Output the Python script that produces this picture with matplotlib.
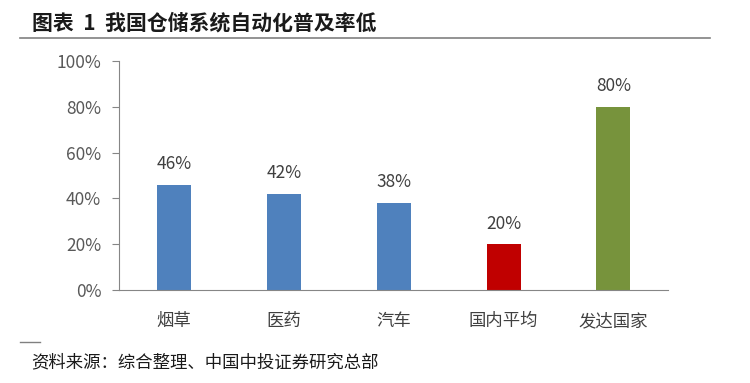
import matplotlib
matplotlib.use('Agg')
import matplotlib.pyplot as plt

plt.rcParams['font.family'] = ['Noto Sans CJK SC', 'DejaVu Sans']

categories = ['烟草', '医药', '汽车', '国内平均', '发达国家']
values = [46, 42, 38, 20, 80]
colors = ['#4F81BD', '#4F81BD', '#4F81BD', '#C00000', '#77933C']
yticks = [0, 20, 40, 60, 80, 100]

fig = plt.figure(figsize=(7.5, 3.83), dpi=100)
ax = fig.add_axes([0.159, 0.243, 0.732, 0.598])

x = range(len(categories))
ax.bar(x, values, width=0.31, color=colors)
for i, v in zip(x, values):
    ax.text(i, v + 5, '%d%%' % v, ha='center', va='bottom', fontsize=12.5, color='#404040')

ax.set_xlim(-0.5, len(categories) - 0.5)
ax.set_ylim(0, 100)
ax.set_yticks(yticks)
ax.set_yticklabels(['%d%%' % t for t in yticks], fontsize=12.5, color='#595959')
ax.set_xticks(list(x))
ax.set_xticklabels(categories, fontsize=12.5, color='#404040')
ax.tick_params(axis='x', length=0, pad=16)
ax.tick_params(axis='y', length=5, color='#868686', pad=8)
for s in ['top', 'right']:
    ax.spines[s].set_visible(False)
ax.spines['left'].set_color('#868686')
ax.spines['bottom'].set_color('#868686')

fig.text(0.042, 0.94, '图表  1  我国仓储系统自动化普及率低', fontsize=15, fontweight='bold',
         va='center', ha='left', color='#1a1a1a')
fig.add_artist(plt.Line2D([0.027, 0.947], [0.901, 0.901], color='#808080', lw=1.2))
fig.add_artist(plt.Line2D([0.027, 0.053], [0.107, 0.107], color='#808080', lw=1))
fig.text(0.042, 0.055, '资料来源：综合整理、中国中投证券研究总部', fontsize=12.5,
         va='center', ha='left', color='#1a1a1a')

fig.savefig('out.png', dpi=100)
